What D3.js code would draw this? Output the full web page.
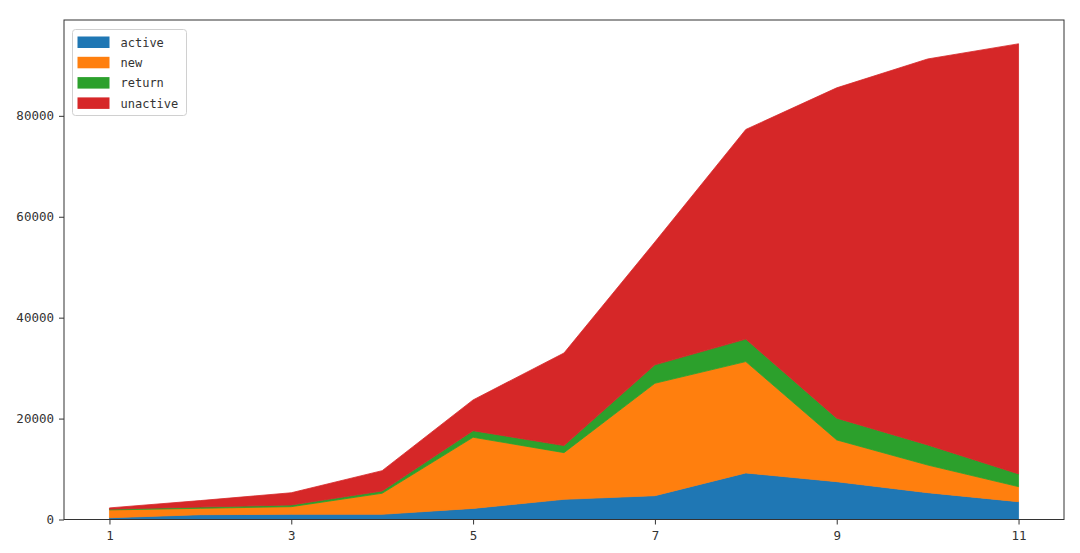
<!DOCTYPE html>
<html>
<head>
<meta charset="utf-8">
<script src="https://cdn.jsdelivr.net/npm/d3@7"></script>
<style>
  body { margin: 0; background: white; }
  svg text { font-family: "DejaVu Sans Mono", monospace; }
</style>
</head>
<body>
<main></main>
<script>
// values
const months = [1, 2, 3, 4, 5, 6, 7, 8, 9, 10, 11]
const active   = [350, 950, 1030, 1030, 2200, 4000, 4720, 9230, 7500, 5320, 3530]
const newUsers = [1550, 1270, 1510, 4170, 14100, 9250, 22280, 22070, 8270, 5480, 2980]
const returned = [150, 240, 340, 450, 1300, 1400, 3650, 4450, 4310, 3980, 2520]
const unactive = [250, 1290, 2420, 4030, 6100, 18350, 24350, 41550, 65470, 76490, 85250]

const seriesNames = ["active", "new", "return", "unactive"]
const colors = ["#1f77b4", "#ff7f0e", "#2ca02c", "#d62728"]
const xTicks = [1, 3, 5, 7, 9, 11]
const yTicks = [0, 20000, 40000, 60000, 80000]

const svgWidth = 1080
const svgHeight = 553

const plotLeft = 64
const plotRight = 1064
const plotTop = 20
const plotBottom = 519.5

let rows = months.map((m, i) => ({
    month: m,
    active: active[i],
    new: newUsers[i],
    return: returned[i],
    unactive: unactive[i]
}))

let stacked = d3.stack().keys(seriesNames)(rows)

let maxTotal = d3.max(stacked[stacked.length - 1], d => d[1])

let xScale = d3.scaleLinear()
    .domain([0.5, 11.5])
    .range([plotLeft, plotRight])

let yScale = d3.scaleLinear()
    .domain([0, maxTotal * 1.05])
    .range([plotBottom, plotTop])

let svg = d3.select("main")
    .append("svg")
    .attr("width", svgWidth)
    .attr("height", svgHeight)
    .style("display", "block")

let area = d3.area()
    .x(d => xScale(d.data.month))
    .y0(d => yScale(d[0]))
    .y1(d => yScale(d[1]))

svg.append("g")
    .selectAll("path")
    .data(stacked)
    .enter()
    .append("path")
    .attr("d", area)
    .attr("fill", (d, i) => colors[i])
    .attr("stroke", (d, i) => colors[i])
    .attr("stroke-width", 0.8)

// axes
let bottomAxis = d3.axisBottom(xScale)
    .tickValues(xTicks)
    .tickSize(5)
    .tickPadding(7)
    .tickFormat(d3.format("d"))

let xAxis = svg.append("g")
    .attr("transform", `translate(0, ${plotBottom})`)
    .call(bottomAxis)

let leftAxis = d3.axisLeft(yScale)
    .tickValues(yTicks)
    .tickSize(5)
    .tickPadding(5)
    .tickFormat(d3.format("d"))

let yAxis = svg.append("g")
    .attr("transform", `translate(${plotLeft}, 0)`)
    .call(leftAxis)

xAxis.select(".domain").remove()
yAxis.select(".domain").remove()

svg.selectAll(".tick text")
    .style("font-size", "12.5px")
    .attr("fill", "#333")

svg.selectAll(".tick line")
    .attr("stroke", "#333")

// frame
svg.append("rect")
    .attr("x", plotLeft)
    .attr("y", plotTop)
    .attr("width", plotRight - plotLeft)
    .attr("height", plotBottom - plotTop)
    .attr("fill", "none")
    .attr("stroke", "#333")
    .attr("stroke-width", 1)

// legend
let legend = svg.append("g")
    .attr("transform", "translate(72.5, 29.5)")

legend.append("rect")
    .attr("width", 114)
    .attr("height", 86)
    .attr("rx", 3)
    .attr("fill", "white")
    .attr("fill-opacity", 0.8)
    .attr("stroke", "#d0d0d0")

let items = legend.selectAll("g.item")
    .data(seriesNames)
    .enter()
    .append("g")
    .attr("class", "item")
    .attr("transform", (d, i) => `translate(5, ${7 + i * 20.3})`)

items.append("rect")
    .attr("width", 32)
    .attr("height", 11.5)
    .attr("fill", (d, i) => colors[i])

items.append("text")
    .attr("x", 43)
    .attr("y", 6)
    .attr("dy", "0.35em")
    .style("font-size", "12px")
    .attr("fill", "#333")
    .text(d => d)
</script>
</body>
</html>
